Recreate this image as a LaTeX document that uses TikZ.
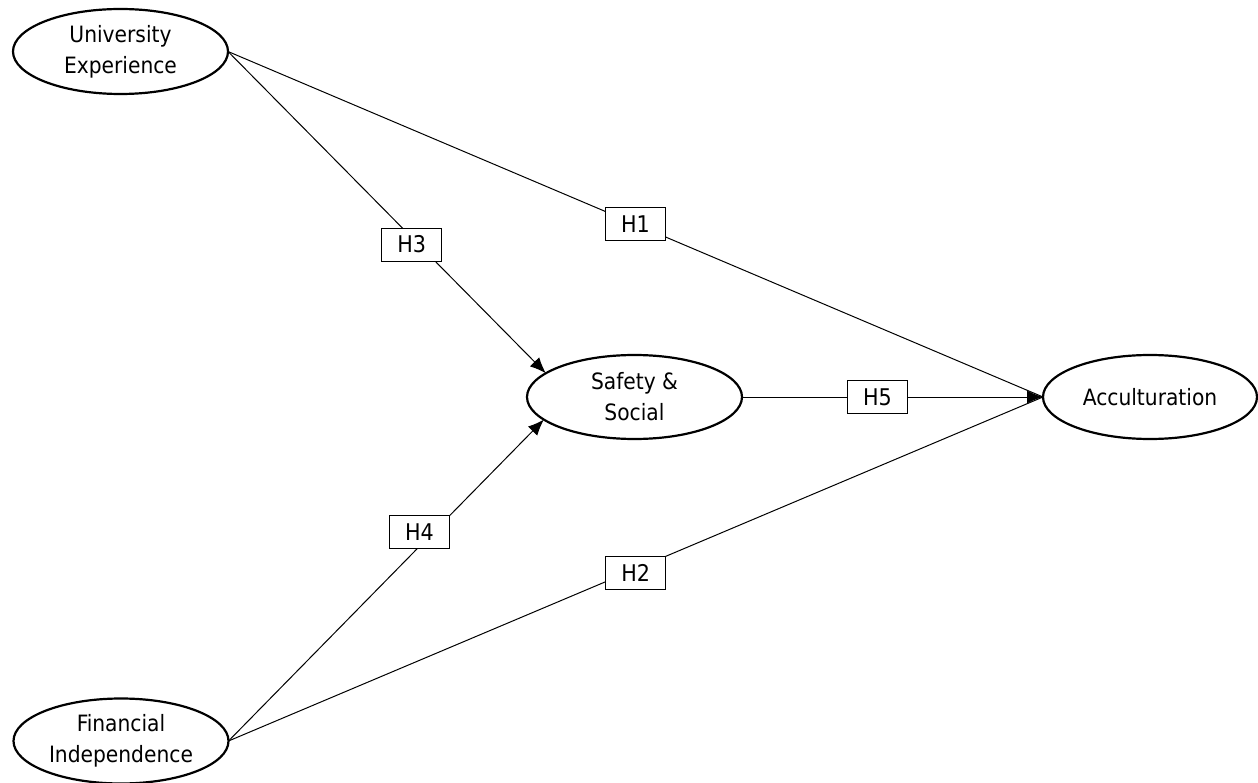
\documentclass[tikz,border=0pt]{standalone}
\usepackage{fontspec}
\setmainfont{DejaVu Sans Condensed}
\usetikzlibrary{shapes.geometric,arrows.meta}
\tikzset{
  construct/.style={ellipse, draw, line width=2.2pt, inner sep=0pt, outer sep=0pt,
    minimum width=215pt, minimum height=85pt, align=center,
    font=\fontsize{22.5}{31}\selectfont},
  hbox/.style={rectangle, draw, fill=white, line width=1pt, inner sep=0pt,
    minimum width=60pt, minimum height=33pt, font=\fontsize{23}{27}\selectfont},
  path/.style={line width=1pt},
  arr/.style={line width=1pt, -{Latex[length=16pt,width=13pt]}}
}
\begin{document}
\begin{tikzpicture}[x=1pt,y=-1pt]
\useasboundingbox (0,0) rectangle (1258,783);
\node[construct] (UE) at (120.5,51.5) {University\\Experience};
\node[construct] (FI) at (121,741) {Financial\\Independence};
\node[construct, minimum height=84pt] (SS) at (634.5,397) {Safety \&\\Social};
\node[construct, minimum width=214pt, minimum height=84pt] (AC) at (1150,397) {Acculturation};
\draw[path] (UE.east) -- (AC.west) node[hbox, pos=0.5] (H1) {H1};
\draw[path] (FI.east) -- (AC.west) node[hbox, pos=0.5, yshift=-4pt] (H2) {H2};
\draw[arr] (SS.east) -- (AC.west) node[hbox, pos=0.45] (H5) {H5};
\draw[arr] (UE.east) -- (SS.165.7) node[hbox, pos=0.6, xshift=-7pt] (H3) {H3};
\draw[arr] (FI.east) -- (SS.194.3) node[hbox, pos=0.65, xshift=-14pt] (H4) {H4};
\end{tikzpicture}
\end{document}
